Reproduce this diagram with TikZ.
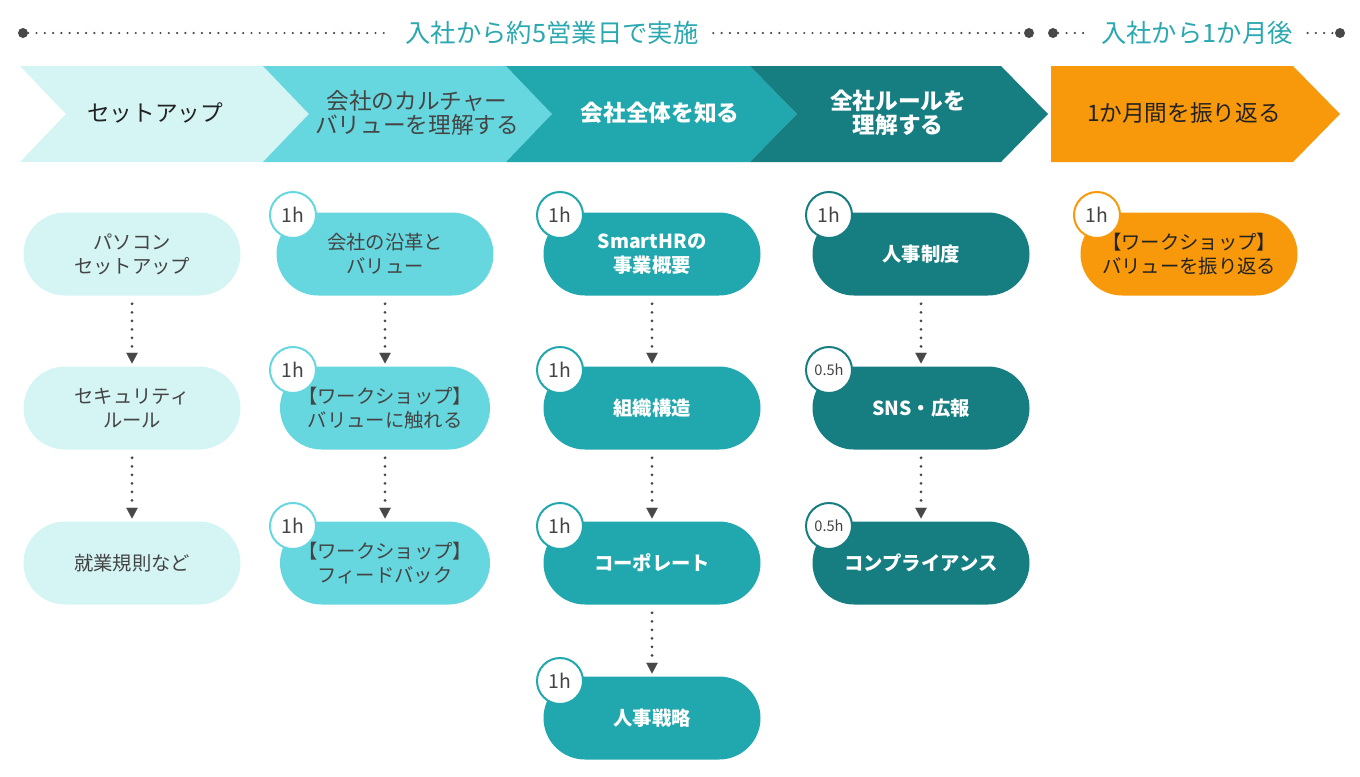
\documentclass[tikz,border=0pt]{standalone}
\usepackage{fontspec}
\setmainfont{Noto Sans CJK JP}
\usetikzlibrary{shapes.misc,arrows.meta}

\definecolor{palecol}{RGB}{213,244,244}
\definecolor{aquacol}{RGB}{102,215,222}
\definecolor{tealcol}{RGB}{33,168,174}
\definecolor{deepcol}{RGB}{22,125,129}
\definecolor{orangecol}{RGB}{247,153,10}
\definecolor{inkcol}{RGB}{34,34,34}
\definecolor{graycol}{RGB}{68,68,68}
\definecolor{dotcol}{RGB}{72,72,72}
\definecolor{labelcol}{RGB}{42,168,176}

\newcommand{\chevtext}{\fontsize{17pt}{18.5pt}\selectfont}
\newcommand{\pilltext}{\fontsize{14.5pt}{18pt}\selectfont}
\newcommand{\badgetext}{\fontsize{14.5pt}{16pt}\selectfont}
\newcommand{\halftext}{\fontsize{11pt}{12pt}\selectfont}

\begin{document}
\begin{tikzpicture}[x=0.75pt,y=0.75pt,yscale=-1,xscale=1,
		tdot/.style={circle,fill=dotcol,inner sep=0pt,minimum size=7.5pt},
		tline/.style={dotcol,line width=1.8pt,line cap=round,dash pattern=on 0pt off 6.2pt},
		tlabel/.style={text=labelcol,inner xsep=11pt,font={\fontsize{19pt}{22pt}\selectfont}},
		chev/.style={align=center,font=\chevtext},
		pill/.style={rounded rectangle,minimum width=162.75pt,minimum height=62.25pt,inner sep=0pt,align=center,font=\pilltext},
		palepill/.style={pill,fill=palecol,text=graycol},
		aquapill/.style={pill,fill=aquacol,text=graycol},
		tealpill/.style={pill,fill=tealcol,text=white,font=\pilltext\bfseries},
		deeppill/.style={pill,fill=deepcol,text=white,font=\pilltext\bfseries},
		orangepill/.style={pill,fill=orangecol,text=inkcol},
		badge/.style={circle,fill=white,draw,line width=1.5pt,minimum size=34.5pt,inner sep=0pt,text=graycol,font=\badgetext},
		flow/.style={dotcol,line width=2.3pt,line cap=round,dash pattern=on 0pt off 6.4pt,shorten <=6pt,shorten >=2pt,-{Triangle[width=8.5pt,length=8pt,line width=0.1pt]}}
		]
		\useasboundingbox (0,0) rectangle (1360,776);
		
		% timeline
		\node[tdot] (ta) at (23,33) {};
		\node[tlabel] (tl1) at (552,33) {入社から約5営業日で実施};
		\node[tdot] (tb) at (1029,33) {};
		\node[tdot] (tc) at (1053,33) {};
		\node[tlabel] (tl2) at (1197,33) {入社から1か月後};
		\node[tdot] (td) at (1340,33) {};
		\draw[tline] (ta) -- (tl1);
		\draw[tline] (tl1) -- (tb);
		\draw[tline] (tc) -- (tl2);
		\draw[tline] (tl2) -- (td);
		
		% chevrons
		\fill[palecol] (20,66) -- (263,66) -- (309,114) -- (263,162) -- (20,162) -- (66,114) -- cycle;
		\fill[aquacol] (263,66) -- (506,66) -- (552,114) -- (506,162) -- (263,162) -- (309,114) -- cycle;
		\fill[tealcol] (506,66) -- (750,66) -- (797,114) -- (750,162) -- (506,162) -- (552,114) -- cycle;
		\fill[deepcol] (750,66) -- (1001,66) -- (1048,114) -- (1001,162) -- (750,162) -- (797,114) -- cycle;
		\fill[orangecol] (1051,66) -- (1293,66) -- (1340,114) -- (1293,162) -- (1051,162) -- cycle;
		
		\node[chev,text=inkcol] (c1) at (155,113) {セットアップ};
		\node[chev,text=graycol] (c2) at (417,113) {会社のカルチャー\\バリューを理解する};
		\node[chev,text=white,font=\chevtext\bfseries] (c3) at (660,113) {会社全体を知る};
		\node[chev,text=white,font=\chevtext\bfseries] (c4) at (898,113) {全社ルールを\\理解する};
		\node[chev,text=inkcol] (c5) at (1184,113) {1か月間を振り返る};
		
		% steps
		\node[palepill] (p11) at (132,254) {パソコン\\セットアップ};
		\node[palepill] (p12) at (132,408) {セキュリティ\\ルール};
		\node[palepill] (p13) at (132,563) {就業規則など};
		
		\node[aquapill] (p21) at (385,254) {会社の沿革と\\バリュー};
		\node[aquapill,minimum width=157.5pt] (p22) at (385,408) {【ワークショップ】\\バリューに触れる};
		\node[aquapill,minimum width=157.5pt] (p23) at (385,563) {【ワークショップ】\\フィードバック};
		
		\node[tealpill] (p31) at (652,254) {SmartHRの\\事業概要};
		\node[tealpill] (p32) at (652,408) {組織構造};
		\node[tealpill] (p33) at (652,563) {コーポレート};
		\node[tealpill] (p34) at (652,718) {人事戦略};
		
		\node[deeppill] (p41) at (921,254) {人事制度};
		\node[deeppill] (p42) at (921,408) {SNS・広報};
		\node[deeppill] (p43) at (921,563) {コンプライアンス};
		
		\node[orangepill] (p51) at (1189,254) {【ワークショップ】\\バリューを振り返る};
		
		% hours
		\node[badge,draw=aquacol] (b21) at (293,215) {1h};
		\node[badge,draw=aquacol] (b22) at (293,370) {1h};
		\node[badge,draw=aquacol] (b23) at (293,526) {1h};
		\node[badge,draw=tealcol] (b31) at (560,215) {1h};
		\node[badge,draw=tealcol] (b32) at (560,370) {1h};
		\node[badge,draw=tealcol] (b33) at (560,526) {1h};
		\node[badge,draw=tealcol] (b34) at (560,681) {1h};
		\node[badge,draw=deepcol] (b41) at (829,215) {1h};
		\node[badge,draw=deepcol,font=\halftext] (b42) at (829,370) {0.5h};
		\node[badge,draw=deepcol,font=\halftext] (b43) at (829,526) {0.5h};
		\node[badge,draw=orangecol] (b51) at (1097,215) {1h};
		
		\foreach \a/\b in {p11/p12,p12/p13,p21/p22,p22/p23,p31/p32,p32/p33,p33/p34,p41/p42,p42/p43}
		\draw[flow] (\a) -- (\b);
		
\end{tikzpicture}
\end{document}
